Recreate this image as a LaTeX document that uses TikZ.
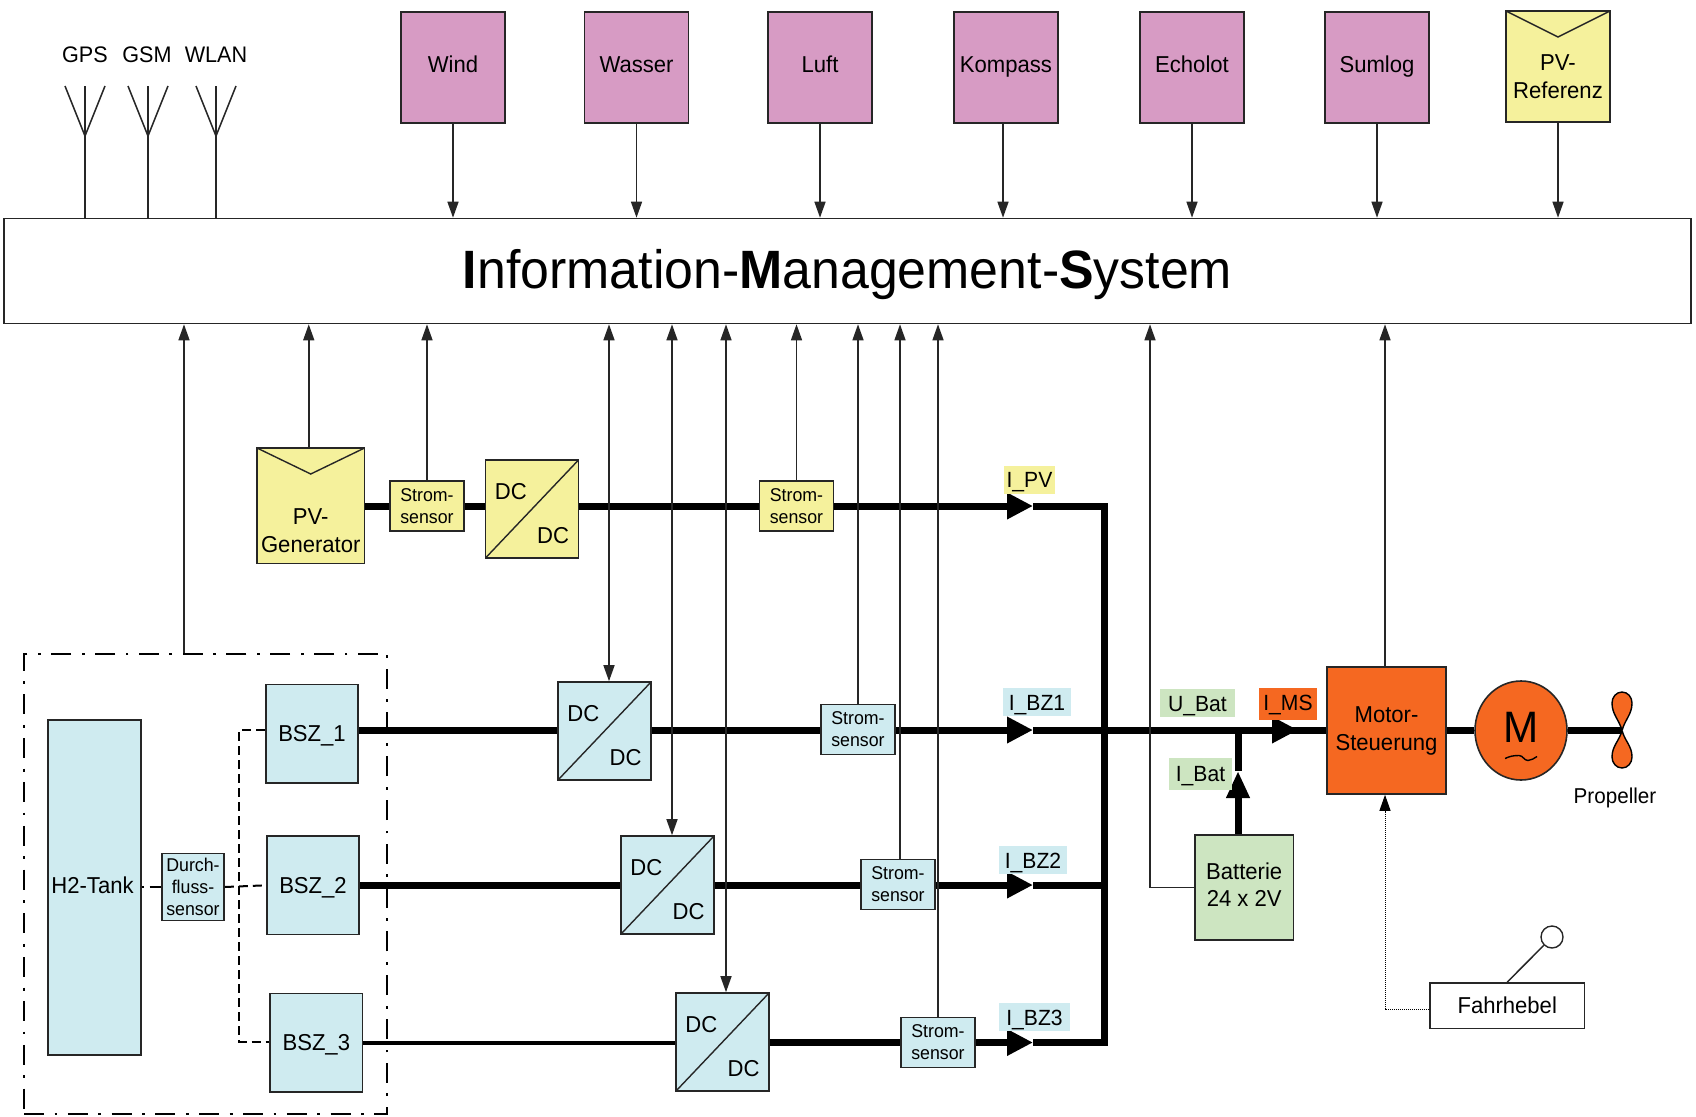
\documentclass[tikz,border=0pt]{standalone}
\usepackage{fontspec}
\setmainfont[FakeStretch=0.96]{Liberation Sans}
\usetikzlibrary{arrows.meta,shapes.geometric}

\definecolor{sensorcol}{HTML}{D79BC4}
\definecolor{pvcol}{HTML}{F5F19C}
\definecolor{h2col}{HTML}{CFEBF0}
\definecolor{batcol}{HTML}{CDE5C1}
\definecolor{motorcol}{HTML}{F56821}

\tikzset{
  box/.style={draw=black!85, line width=1.6pt, inner sep=0pt, align=center,
    font=\fontsize{23}{27.5}\selectfont},
  smallbox/.style={box, font=\fontsize{18.5}{22}\selectfont},
  meas/.style={box, fill=sensorcol, minimum width=104pt, minimum height=111pt, text height=17pt, text depth=6pt},
  strom/.style={smallbox, fill=#1, minimum width=74pt, minimum height=50pt},
  dcdc/.style={box, fill=#1, minimum width=93pt, minimum height=98pt,
    path picture={\draw[line width=1.4pt] (path picture bounding box.south west) -- (path picture bounding box.north east);},
    label={[anchor=north west, inner sep=0pt, xshift=10pt, yshift=-24pt, font=\fontsize{23}{27}\selectfont]north west:DC},
    label={[anchor=south east, inner sep=0pt, xshift=-10pt, yshift=15pt, font=\fontsize{23}{27}\selectfont]south east:DC}},
  pvbox/.style={box, fill=pvcol,
    path picture={\draw[line width=1.4pt] (path picture bounding box.north west) -- ([yshift=-26pt]path picture bounding box.north) -- (path picture bounding box.north east);}},
  bsz/.style={box, fill=h2col, minimum width=92.5pt, minimum height=98.5pt, text height=17pt, text depth=1.5pt},
  tag/.style={inner sep=0pt, font=\fontsize{22}{26}\selectfont, fill=#1, minimum height=28pt, text height=16pt, text depth=0pt},
  sig/.style={line width=1.5pt, draw=black!85},
  sigto/.style={sig, -{Triangle[length=16pt,width=11pt]}},
  bus/.style={line width=7pt, line join=miter},
  bustip/.style={bus, -{Triangle[length=26pt,width=25pt]}},
  gas/.style={line width=2pt, dash pattern=on 9pt off 5pt},
  gasdot/.style={line width=2pt, dash pattern=on 2pt off 6pt on 14pt off 6pt},
  frame/.style={line width=2.8pt, dash pattern=on 20pt off 10.5pt on 2.8pt off 10.5pt},
  blade/.style={line width=1.4pt, fill=motorcol},
}

\begin{document}
\begin{tikzpicture}[x=1pt, y=-1pt]
  \useasboundingbox (0,0) rectangle (1696,1116);

  \node[box, minimum width=1687pt, minimum height=105pt, font=\fontsize{54}{60}\selectfont, text height=40pt, text depth=6pt] (ims) at (847.5,271)
    {\textbf{I}nformation-\textbf{M}anagement-\textbf{S}ystem};

  % Antennen
  \foreach \n/\t/\x/\tx in {gps/GPS/85/85, gsm/GSM/148/147, wlan/WLAN/216/216} {
    \coordinate (\n) at (\x,136);
    \node[font=\fontsize{22.5}{26}\selectfont, inner sep=0pt] (\n text) at (\tx,55) {\t};
    \draw[sig] (\n) -- (\n |- ims.north);
    \draw[sig] (\n) -- ++(0,-50);
    \draw[sig] (\n) -- ++(-20,-50);
    \draw[sig] (\n) -- ++(20,-50);
  }

  % Messwerte oben
  \node[meas] (wind) at (453,67.5) {Wind};
  \node[meas] (wasser) at (636.5,67.5) {Wasser};
  \node[meas] (luft) at (820,67.5) {Luft};
  \node[meas] (kompass) at (1006,67.5) {Kompass};
  \node[meas] (echolot) at (1192,67.5) {Echolot};
  \node[meas] (sumlog) at (1377,67.5) {Sumlog};
  \node[pvbox, minimum width=104pt, minimum height=111pt,
    label={[align=center, yshift=-10pt, font=\fontsize{23}{27.5}\selectfont]center:PV-\\Referenz}] (pvref) at (1558,66.5) {};
  \foreach \n in {wind,wasser,luft,echolot,sumlog,pvref}
    \draw[sigto] (\n.south) -- (\n.south |- ims.north);
  \draw[sigto] ([xshift=-3pt]kompass.south) -- ([xshift=-3pt]kompass.south |- ims.north);

  % PV-Strang
  \node[pvbox, minimum width=107.5pt, minimum height=115.5pt,
    label={[align=center, yshift=-25pt, font=\fontsize{23}{27.5}\selectfont]center:PV-\\Generator}] (pvgen) at (310.75,505.75) {};
  \node[strom=pvcol] (strompv) at (427,506) {Strom-\\sensor};
  \node[dcdc=pvcol] (dcpv) at (532,509) {};
  \node[strom=pvcol] (strommid) at (796.5,506) {Strom-\\sensor};

  % Brennstoffzellen
  \node[draw, frame, minimum width=363pt, minimum height=460pt, inner sep=0pt] (bzsys) at (205.5,884) {};
  \node[box, fill=h2col, minimum width=92.5pt, minimum height=335pt, text height=17pt, text depth=6pt] (tank) at (94.5,887.5) {H2-Tank\hspace{4pt}};
  \node[smallbox, fill=h2col, minimum width=62pt, minimum height=67pt] (durch) at (193,887) {Durch-\\fluss-\\sensor};
  \node[bsz] (bsza) at (312,733.8) {BSZ\_1};
  \node[bsz] (bszb) at (313,885.3) {BSZ\_2};
  \node[bsz] (bszc) at (316.3,1042.7) {BSZ\_3};
  \node[dcdc=h2col] (dca) at (604.5,731) {};
  \node[dcdc=h2col] (dcb) at (667.5,885) {};
  \node[dcdc=h2col] (dcc) at (722.5,1042) {};
  \node[strom=h2col] (stroma) at (858,729.5) {Strom-\\sensor};
  \node[strom=h2col] (stromb) at (898,884.5) {Strom-\\sensor};
  \node[strom=h2col] (stromc) at (938,1042.5) {Strom-\\sensor};

  % Antrieb
  \node[box, fill=batcol, minimum width=98.5pt, minimum height=105pt, text depth=6pt] (batt) at (1244.2,887.5) {Batterie\\24 x 2V};
  \node[box, fill=motorcol, minimum width=119pt, minimum height=127pt, text depth=4pt] (motor) at (1386.5,730.5) {Motor-\\Steuerung};
  \node[draw=black!85, line width=1.6pt, fill=motorcol, ellipse, minimum width=92pt, minimum height=99pt, inner sep=0pt] (mot) at (1521,730.5) {};
  \node[inner sep=0pt, font=\fontsize{44}{48}\selectfont] (motm) at (1521,727) {M};
  \node[box, fill=white, minimum width=154.5pt, minimum height=45.5pt] (hebel) at (1507.2,1005.7) {Fahrhebel};
  \node[draw=black!85, line width=1.4pt, circle, fill=white, minimum size=22pt, inner sep=0pt] (knauf) at (1552,937) {};
  \node[inner sep=0pt, font=\fontsize{21.5}{26}\selectfont] (proptext) at (1615,798) {Propeller};

  % Stromlaufpunkte
  \coordinate (buspv) at (1104,506);
  \coordinate (busa) at (1104,730);
  \coordinate (busb) at (1104,885);
  \coordinate (busc) at (1104,1042.5);
  \coordinate (tippv) at (1033,506);
  \coordinate (tipa) at (1033,730);
  \coordinate (tipb) at (1033,885);
  \coordinate (tipc) at (1033,1042.5);
  \coordinate (tipms) at (1298,730);
  \coordinate (tipbat) at (1238,771);
  \coordinate (hub) at (1622,730.5);

  \foreach \a/\b/\y in {pvgen/strompv/buspv, strompv/dcpv/buspv, dcpv/strommid/buspv,
      bsza/dca/busa, dca/stroma/busa, bszb/dcb/busb, dcb/stromb/busb, dcc/stromc/busc}
    \draw[bus] (\a.east |- \y) -- (\b.west |- \y);
  \draw[line width=4pt] (bszc.east |- busc) -- (dcc.west |- busc);

  \draw[bustip] (strommid.east |- buspv) -- (tippv);
  \draw[bustip] (stroma.east |- busa) -- (tipa);
  \draw[bustip] (stromb.east |- busb) -- (tipb);
  \draw[bustip] (stromc.east |- busc) -- (tipc);
  \draw[bus] (tippv) -- (buspv) -- (busc) -- (tipc);
  \draw[bus] (tipb) -- (busb);
  \draw[bus] (tipa) -- (busa) -- (tipms |- busa);
  \draw[bustip] (busa) -- (tipms);
  \draw[bus] (tipms) -- (motor.west |- tipms);
  \draw[bus] (motor.east) -- (mot.west);
  \draw[bus] (mot.east) -- (hub);
  \draw[bus, -{Triangle[length=27pt,width=22pt]}] (tipbat |- batt.north) -- (tipbat);
  \draw[bus] (tipbat) -- (tipbat |- busa);

  % Propeller und Motor
  \draw[blade] (hub) to[out=105, in=270] (1612,703) to[out=90, in=180] (1622,692) to[out=0, in=90] (1632,703) to[out=270, in=75] (hub);
  \draw[blade] (hub) to[out=-105, in=90] (1612,757) to[out=270, in=180] (1622,768) to[out=0, in=270] (1632,757) to[out=90, in=-75] (hub);
  \draw[line width=1.4pt] ([xshift=-16pt,yshift=-28pt]mot.center) to[out=25, in=180] ([xshift=-2pt,yshift=-25pt]mot.center) to[out=0, in=180] ([xshift=7pt,yshift=-30pt]mot.center) to[out=0, in=205] ([xshift=16pt,yshift=-26pt]mot.center);

  % Signale
  \draw[sigto] ([xshift=-21.5pt]bzsys.north) -- ([xshift=-21.5pt]bzsys.north |- ims.south);
  \draw[sigto] ([xshift=-2pt]pvgen.north) -- ([xshift=-2pt]pvgen.north |- ims.south);
  \draw[sigto] (strompv.north) -- (strompv.north |- ims.south);
  \draw[sigto] (strommid.north) -- (strommid.north |- ims.south);
  \draw[sigto] (stroma.north) -- (stroma.north |- ims.south);
  \draw[sigto] ([xshift=2pt]stromb.north) -- ([xshift=2pt]stromb.north |- ims.south);
  \draw[sigto] (stromc.north) -- (stromc.north |- ims.south);
  \foreach \n/\s in {dca/4.5, dcb/4.5, dcc/3.5}
    \draw[sig, {Triangle[length=16pt,width=11pt]}-{Triangle[length=16pt,width=11pt]}] ([xshift=\s pt]\n.north) -- ([xshift=\s pt]\n.north |- ims.south);
  \coordinate (ubat) at (1150,887.5);
  \draw[sigto] (batt.west) -- (ubat) -- (ubat |- ims.south);
  \draw[sigto] ([xshift=-1.5pt]motor.north) -- ([xshift=-1.5pt]motor.north |- ims.south);
  \coordinate (hebelv) at (1385,1009);
  \draw[line width=1pt, densely dotted, -{Triangle[length=16pt,width=11pt]}] (hebel.west |- hebelv) -- (hebelv) -- (hebelv |- motor.south);
  \draw[sig] (hebel.north) -- (knauf);

  % Wasserstoff
  \coordinate (gasa) at (239,730.3);
  \coordinate (gasc) at (239,1041.7);
  \draw[gasdot] (tank.east |- durch.center) -- (durch.west);
  \draw[gas] (durch.east) -- (bszb.west);
  \draw[gas] (bsza.west |- gasa) -- (gasa) -- (gasc) -- (bszc.west |- gasc);

  % Messgroessen
  \node[tag=pvcol, minimum width=51pt] (ipv) at (1029.5,479.5) {I\_PV};
  \node[tag=h2col, minimum width=68pt] (ibza) at (1037,702) {I\_BZ1};
  \node[tag=h2col, minimum width=68pt] (ibzb) at (1033,860) {I\_BZ2};
  \node[tag=h2col, minimum width=71pt] (ibzc) at (1034.5,1017) {I\_BZ3};
  \node[tag=batcol, minimum width=75pt] (ubattext) at (1197.5,703) {U\_Bat};
  \node[tag=motorcol, minimum width=58pt, minimum height=32pt, text depth=3pt] (imstext) at (1288,704) {I\_MS};
  \node[tag=batcol, minimum width=63pt, minimum height=32pt, text depth=2pt] (ibattext) at (1200.5,774) {I\_Bat};
\end{tikzpicture}
\end{document}
